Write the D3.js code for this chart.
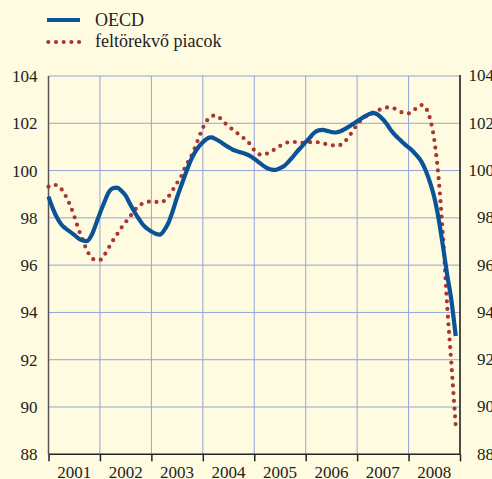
<!DOCTYPE html>
<html>
<head>
<meta charset="utf-8">
<script src="https://cdn.jsdelivr.net/npm/d3@7"></script>
<style>
	html, body { margin: 0; padding: 0; background: #fffbe1; }
	svg { display: block; }
	svg text { font-family: "Liberation Serif", "DejaVu Serif", serif; }
</style>
</head>
<body>
<svg id="chart" width="492" height="479"></svg>
<script>
// monthly values, Jan 2001 .. Dec 2008
var startYear = 2001;
var years = [2001, 2002, 2003, 2004, 2005, 2006, 2007, 2008];
var yTicks = [88, 90, 92, 94, 96, 98, 100, 102, 104];
var seriesNames = ['OECD', 'feltörekvő piacok'];

var oecd = [
	98.9, 98.4, 98.0, 97.72, 97.55, 97.42, 97.28, 97.13, 97.04, 97.02, 97.25, 97.7,
	98.2, 98.65, 99.07, 99.25, 99.28, 99.15, 98.94, 98.6, 98.27, 97.98, 97.72, 97.55,
	97.42, 97.33, 97.29, 97.48, 97.8, 98.3, 98.87, 99.38, 99.88, 100.35, 100.72, 101.0,
	101.2, 101.35, 101.4, 101.33, 101.23, 101.1, 100.99, 100.88, 100.82, 100.76, 100.7, 100.62,
	100.5, 100.36, 100.22, 100.1, 100.04, 100.03, 100.1, 100.2, 100.38, 100.58, 100.8, 101.0,
	101.2, 101.4, 101.6, 101.7, 101.72, 101.68, 101.63, 101.61, 101.65, 101.74, 101.85, 101.97,
	102.08, 102.2, 102.31, 102.4, 102.43, 102.34, 102.17, 101.95, 101.68, 101.47, 101.3, 101.13,
	100.98, 100.82, 100.62, 100.38, 100.0, 99.5, 98.87, 97.97, 96.83, 95.6, 94.5, 93.0
];

var emerging = [
	99.32, 99.4, 99.38, 99.22, 98.93, 98.55, 98.08, 97.53, 97.05, 96.62, 96.32, 96.22,
	96.22, 96.42, 96.72, 97.03, 97.3, 97.58, 97.82, 98.05, 98.3, 98.5, 98.61, 98.67,
	98.69, 98.68, 98.65, 98.72, 98.9, 99.18, 99.48, 99.77, 100.2, 100.5, 100.9, 101.36,
	101.8, 102.13, 102.3, 102.33, 102.22, 102.04, 101.87, 101.73, 101.59, 101.45, 101.3, 101.12,
	100.86, 100.7, 100.66, 100.72, 100.82, 100.92, 101.04, 101.13, 101.2, 101.21, 101.2, 101.17,
	101.17, 101.2, 101.22, 101.19, 101.15, 101.11, 101.08, 101.05, 101.08, 101.2, 101.42, 101.68,
	101.95, 102.15, 102.29, 102.4, 102.48, 102.56, 102.62, 102.67, 102.66, 102.6, 102.5, 102.43,
	102.42, 102.5, 102.68, 102.77, 102.65, 102.2, 101.3, 99.7, 97.3, 94.3, 91.8, 89.2
];

var plotLeft = 48.5, plotRight = 460, plotTop = 76, plotBottom = 454.3;
var blue = '#0b5399', red = '#a8372f', grid = '#93a4d8';

var svg = d3.select('#chart');

var x = d3.scaleLinear().domain([startYear, startYear + years.length]).range([plotLeft, plotRight]);
var y = d3.scaleLinear().domain([88, 104]).range([plotBottom, plotTop]);

// horizontal gridlines
svg.append('g')
	.selectAll('line')
	.data(yTicks.slice(1))
	.enter().append('line')
	.attr('x1', plotLeft).attr('x2', plotRight)
	.attr('y1', function(d) { return y(d); })
	.attr('y2', function(d) { return y(d); })
	.attr('stroke', grid).attr('stroke-width', 1);

// vertical gridlines at year boundaries
svg.append('g')
	.selectAll('line')
	.data(years.slice(1))
	.enter().append('line')
	.attr('x1', function(d) { return x(d); })
	.attr('x2', function(d) { return x(d); })
	.attr('y1', plotTop).attr('y2', plotBottom)
	.attr('stroke', grid).attr('stroke-width', 1);

// bottom axis with ticks down at year boundaries
var xAxis = d3.axisBottom(x)
	.tickValues(years.concat([startYear + years.length]))
	.tickSize(7)
	.tickFormat('');
var gx = svg.append('g').attr('transform', 'translate(0,' + plotBottom + ')').call(xAxis);
gx.select('.domain').attr('stroke', '#222').attr('stroke-width', 1.5).attr('d', 'M' + plotLeft + ',0H' + plotRight);
gx.selectAll('.tick line').attr('stroke', '#222').attr('stroke-width', 1.5);

// year labels centred in each year
svg.append('g')
	.selectAll('text')
	.data(years)
	.enter().append('text')
	.attr('x', function(d) { return x(d + 0.5); })
	.attr('y', 477.5)
	.attr('text-anchor', 'middle')
	.attr('font-size', 17)
	.attr('fill', '#222')
	.text(function(d) { return d; });

// left and right vertical axes
svg.append('line')
	.attr('x1', plotLeft).attr('x2', plotLeft).attr('y1', plotTop).attr('y2', plotBottom)
	.attr('stroke', '#555').attr('stroke-width', 1.5);
svg.append('line')
	.attr('x1', plotRight).attr('x2', plotRight).attr('y1', plotTop - 1).attr('y2', plotBottom)
	.attr('stroke', '#111').attr('stroke-width', 1.5);

// value labels on both sides
var yLeft = d3.axisLeft(y).tickValues(yTicks).tickSize(0).tickPadding(11);
var gl = svg.append('g').attr('transform', 'translate(' + plotLeft + ',0)').call(yLeft);
gl.select('.domain').remove();
gl.attr('font-family', null).attr('font-size', null);
gl.selectAll('text').attr('font-size', 17).attr('fill', '#222');

svg.append('g').selectAll('text')
	.data(yTicks)
	.enter().append('text')
	.attr('x', 494)
	.attr('y', function(d) { return y(d); })
	.attr('dy', '0.32em')
	.attr('text-anchor', 'end')
	.attr('font-size', 17)
	.attr('fill', '#222')
	.text(function(d) { return d; });

// series
var line = d3.line()
	.x(function(d, i) { return x(startYear + i / 12); })
	.y(function(d) { return y(d); })
	.curve(d3.curveMonotoneX);

svg.append('path')
	.datum(emerging)
	.attr('d', line)
	.attr('fill', 'none')
	.attr('stroke', red)
	.attr('stroke-width', 4.2)
	.attr('stroke-linecap', 'round')
	.attr('stroke-dasharray', '0 7.7');

svg.append('path')
	.datum(oecd)
	.attr('d', line)
	.attr('fill', 'none')
	.attr('stroke', blue)
	.attr('stroke-width', 4.2)
	.attr('stroke-linejoin', 'round');

// legend
var legend = svg.append('g');
legend.append('line')
	.attr('x1', 47).attr('x2', 80).attr('y1', 20).attr('y2', 20)
	.attr('stroke', blue).attr('stroke-width', 4.2);
legend.append('line')
	.attr('x1', 48.3).attr('x2', 80).attr('y1', 42).attr('y2', 42)
	.attr('stroke', red).attr('stroke-width', 4.2)
	.attr('stroke-linecap', 'round')
	.attr('stroke-dasharray', '0 7.7');
legend.selectAll('text')
	.data(seriesNames)
	.enter().append('text')
	.attr('x', 95)
	.attr('y', function(d, i) { return 26 + i * 20.5; })
	.attr('font-size', 18)
	.attr('fill', '#222')
	.text(function(d) { return d; });
</script>
</body>
</html>
